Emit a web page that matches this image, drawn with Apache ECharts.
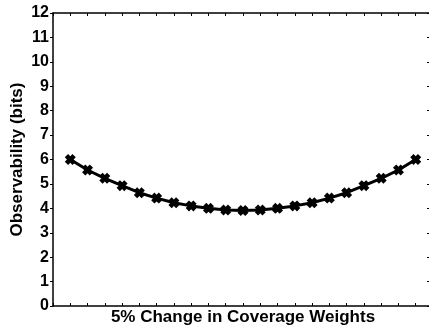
<!DOCTYPE html>
<html>
<head>
<meta charset="utf-8">
<script src="https://cdn.jsdelivr.net/npm/echarts@6/dist/echarts.min.js"></script>
<style>
html,body{margin:0;padding:0;background:#fff;}
#chart{width:429px;height:334px;}
</style>
</head>
<body>
<div id="chart"></div>
<script>
// step index along the x axis (no labels shown)
var steps = [1,2,3,4,5,6,7,8,9,10,11,12,13,14,15,16,17,18,19,20,21];
// observability in bits
var observability = [6.0,5.57,5.23,4.93,4.64,4.42,4.23,4.10,4.0,3.93,3.91,3.93,4.0,4.10,4.23,4.42,4.64,4.93,5.23,5.57,6.0];
var yTicks = [0,1,2,3,4,5,6,7,8,9,10,11,12];

var chart = echarts.init(document.getElementById('chart'));
var font = 'Liberation Sans, Arial, sans-serif';
// bold "x" marker
var xMark = 'path://M3,0 L5,2 L7,0 L10,3 L8,5 L10,7 L7,10 L5,8 L3,10 L0,7 L2,5 L0,3 Z';

var lineStyle = {color:'#000', width:1.5};
var tickIn = {show:true, inside:true, length:3, lineStyle:{color:'#000', width:1}};
var tickOut = {show:true, inside:false, length:3, lineStyle:{color:'#000', width:1}};

var option = {
	animation:false,
	grid:{left:53, right:-4, top:13, bottom:28, outerBoundsMode:'none', containLabel:false},
	xAxis:[
		{
			type:'value', min:0, max:22, interval:1,
			name:'5% Change in Coverage Weights',
			nameLocation:'middle', nameGap:3, nameMoveOverlap:false,
			nameTextStyle:{fontFamily:font, fontWeight:'bold', fontSize:17, color:'#000', verticalAlign:'top'},
			axisLine:{onZero:false, lineStyle:lineStyle},
			axisTick:tickIn,
			axisLabel:{show:false},
			splitLine:{show:false}
		},
		{
			type:'value', min:0, max:22, interval:1, position:'top',
			axisLine:{onZero:false, lineStyle:lineStyle},
			axisTick:tickIn,
			axisLabel:{show:false},
			splitLine:{show:false}
		}
	],
	yAxis:[
		{
			type:'value', min:yTicks[0], max:yTicks[yTicks.length-1], interval:1,
			name:'Observability (bits)',
			nameLocation:'middle', nameGap:27, nameMoveOverlap:false,
			nameTextStyle:{fontFamily:font, fontWeight:'bold', fontSize:17, color:'#000'},
			axisLine:{show:true, onZero:false, lineStyle:lineStyle},
			axisTick:tickOut,
			axisLabel:{fontFamily:font, fontWeight:'bold', fontSize:16, color:'#000', margin:4},
			splitLine:{show:false}
		},
		{
			type:'value', min:0, max:12, interval:1, position:'right',
			axisLine:{show:true, onZero:false, lineStyle:lineStyle},
			axisTick:{show:true, inside:true, length:6, lineStyle:{color:'#000', width:1}},
			axisLabel:{show:false},
			splitLine:{show:false}
		}
	],
	series:[{
		type:'line',
		data:steps.map(function(s,i){ return [s, observability[i]]; }),
		symbol:xMark,
		symbolSize:11,
		showAllSymbol:true,
		itemStyle:{color:'#000'},
		lineStyle:{color:'#000', width:3}
	}]
};
chart.setOption(option);
</script>
</body>
</html>
